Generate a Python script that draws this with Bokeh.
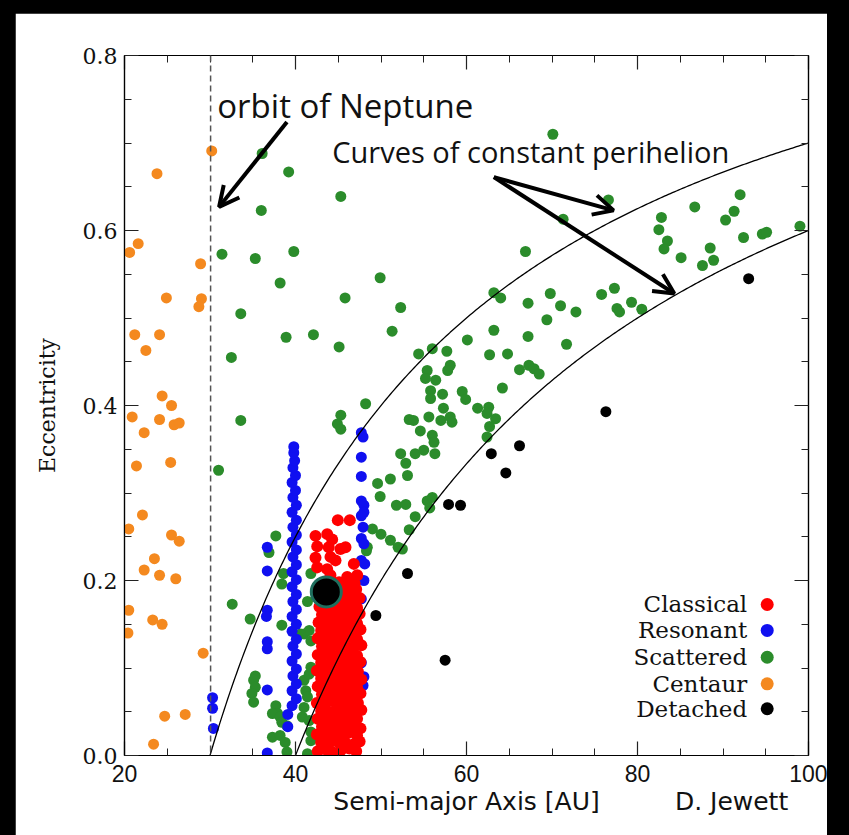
import numpy as np
from bokeh.plotting import figure
from bokeh.models import (Range1d, LinearAxis, FixedTicker, PrintfTickFormatter, Span,
                          Arrow, OpenHead, Label)
from bokeh.layouts import column
from bokeh.core.properties import value
from bokeh.embed import file_html
from bokeh.resources import INLINE

# ---------------- data ----------------
x_ticks = [20, 40, 60, 80, 100]
x_minor = [25, 30, 35, 45, 50, 55, 65, 70, 75, 85, 90, 95]
y_ticks = [0.0, 0.2, 0.4, 0.6, 0.8]
y_minor = [0.05, 0.1, 0.15, 0.25, 0.3, 0.35, 0.45, 0.5, 0.55, 0.65, 0.7, 0.75]

# texts under the x axis: axis title and credit, placed at these a-values
bottom_text_pos = [60.0, 91.0]
bottom_texts = ["Semi-major Axis [AU]", "D. Jewett"]

neptune_a = 30.07
perihelion_q = [30, 40]

centaur_a = [30.2, 23.8, 21.6, 20.6, 28.9, 24.9, 29.0, 28.7, 21.2, 24.1, 22.5, 24.4, 25.5, 20.9,
             24.1, 25.8, 26.4, 22.3, 21.4, 25.4, 22.1, 20.5, 25.5, 26.4, 23.5, 22.3, 24.1, 26.0,
             20.5, 23.3, 24.4, 20.4, 29.2, 24.7, 27.1, 23.4]
centaur_e = [0.691, 0.665, 0.585, 0.575, 0.562, 0.523, 0.522, 0.513, 0.481, 0.481, 0.463, 0.411,
             0.400, 0.387, 0.384, 0.378, 0.380, 0.369, 0.331, 0.335, 0.275, 0.259, 0.252, 0.245,
             0.225, 0.212, 0.206, 0.202, 0.166, 0.155, 0.150, 0.140, 0.117, 0.045, 0.047, 0.013]

scattered_a = [36.1, 39.2, 45.3, 36.0, 31.4, 35.3, 39.8, 38.2, 49.9, 45.8, 52.3, 33.6, 51.3, 38.9,
               42.1, 45.1, 32.5, 60.1, 54.4, 56.0, 57.7, 55.4, 58.1, 55.2, 56.4, 55.8, 57.2, 59.5,
               59.9, 55.8, 57.3, 55.6, 57.0, 58.1, 58.3, 53.3, 53.8, 54.6, 56.0, 56.2, 48.2, 45.3,
               44.9, 45.3, 33.6,
               70.1, 76.6, 66.9, 71.3, 82.8, 82.5, 83.5, 83.1, 86.7, 85.1, 88.5, 88.9, 87.6, 90.3,
               91.3, 92.0, 92.4, 94.6, 95.1, 99.0, 71.0, 72.8, 75.8, 77.3, 77.6, 77.9, 79.3, 80.5,
               71.7, 63.2, 64.0, 67.2, 69.8, 69.4, 63.2, 67.2, 62.7, 64.8, 57.8, 66.2, 67.3, 67.9,
               68.5, 64.2, 61.3, 62.6, 62.4, 63.4, 62.7, 62.4,
               52.3, 52.9, 54.0, 55.0, 56.3, 53.1, 51.1, 49.6, 49.9, 51.8, 52.9, 54.0, 55.4, 56.0,
               55.7, 49.0, 50.0, 51.1, 52.0, 52.5, 53.3, 48.4, 48.3, 41.8, 41.4, 41.0, 41.6, 31.0,
               37.7, 36.9, 38.6, 38.4, 32.6, 34.7, 38.4, 40.6, 41.8, 35.3, 35.1, 35.3, 34.9, 35.1,
               37.7, 37.9, 37.3, 38.2, 38.4, 39.0, 37.3, 38.2, 38.8, 39.0, 41.0, 41.6, 41.8, 41.2,
               41.4, 41.0, 40.8, 41.6, 41.8, 41.8, 41.4]
scattered_e = [0.688, 0.667, 0.639, 0.623, 0.573, 0.568, 0.576, 0.540, 0.546, 0.523, 0.512, 0.505,
               0.485, 0.478, 0.481, 0.467, 0.455, 0.475, 0.459, 0.465, 0.462, 0.440, 0.446, 0.431,
               0.429, 0.417, 0.413, 0.416, 0.407, 0.408, 0.397, 0.387, 0.383, 0.387, 0.381, 0.384,
               0.383, 0.371, 0.366, 0.358, 0.402, 0.389, 0.379, 0.373, 0.383,
               0.710, 0.635, 0.576, 0.613, 0.615, 0.601, 0.588, 0.579, 0.627, 0.569, 0.580, 0.566,
               0.560, 0.612, 0.622, 0.641, 0.592, 0.596, 0.598, 0.605, 0.514, 0.507, 0.527, 0.534,
               0.511, 0.507, 0.518, 0.510, 0.470, 0.529, 0.523, 0.517, 0.528, 0.498, 0.486, 0.479,
               0.458, 0.459, 0.440, 0.441, 0.446, 0.442, 0.436, 0.420, 0.397, 0.398, 0.391, 0.385,
               0.376, 0.364,
               0.345, 0.334, 0.345, 0.349, 0.345, 0.320, 0.316, 0.311, 0.296, 0.286, 0.287, 0.273,
               0.291, 0.295, 0.283, 0.259, 0.253, 0.246, 0.238, 0.236, 0.258, 0.238, 0.234, 0.208,
               0.176, 0.139, 0.143, 0.326, 0.251, 0.232, 0.208, 0.196, 0.173, 0.156, 0.149, 0.139,
               0.131, 0.091, 0.086, 0.078, 0.071, 0.061, 0.057, 0.048, 0.048, 0.044, 0.038, 0.034,
               0.021, 0.023, 0.015, 0.004, 0.086, 0.093, 0.101, 0.074, 0.067, 0.055, 0.044, 0.040,
               0.027, 0.017, 0.002]

resonant_a = [39.6, 40.1, 39.6, 40.1, 39.7, 40.1, 39.6, 40.1, 39.7, 40.1, 39.6, 40.1, 39.6, 40.1,
              39.7, 40.1, 39.6, 40.1, 39.6, 40.1, 39.7, 40.1, 39.6, 40.1, 39.7, 40.1, 39.6, 40.1,
              39.7, 40.0, 39.6, 40.0, 39.7, 39.9, 39.8, 39.8,
              30.3, 30.3, 30.4, 36.7, 36.7, 36.7, 36.6, 36.7, 36.7, 36.7, 36.7, 39.1, 39.1,
              47.7, 47.9, 47.7, 47.7, 47.7, 48.0, 48.0, 47.7, 47.9, 47.7, 48.0, 47.7, 48.1, 48.0,
              47.7, 47.7, 48.0, 47.9]
resonant_e = [0.057, 0.065, 0.074, 0.082, 0.091, 0.099, 0.108, 0.116, 0.125, 0.133, 0.142, 0.150,
              0.159, 0.167, 0.176, 0.184, 0.193, 0.201, 0.210, 0.218, 0.227, 0.235, 0.244, 0.252,
              0.261, 0.269, 0.278, 0.286, 0.295, 0.303, 0.312, 0.320, 0.329, 0.337, 0.346, 0.353,
              0.066, 0.054, 0.031, 0.238, 0.211, 0.166, 0.159, 0.130, 0.122, 0.075, 0.003, 0.047,
              0.033,
              0.369, 0.364, 0.341, 0.319, 0.291, 0.286, 0.278, 0.274, 0.261, 0.248, 0.242, 0.223,
              0.219, 0.200, 0.179, 0.106, 0.090, 0.080]

classical_a = [44.95, 46.35, 42.34, 43.71, 44.29, 42.54, 43.89, 45.26, 45.85, 42.34, 44.09, 44.68,
               46.82, 42.54, 43.71, 46.05, 47.22, 44.09,
               42.6, 43.5, 44.3, 45.3, 46.3, 47.1,
               43.0, 43.9, 44.9, 45.8, 46.8, 47.5,
               42.5, 43.4, 44.4, 45.4, 46.2, 47.2,
               43.1, 44.0, 44.9, 45.9, 46.7, 47.6,
               42.6, 43.5, 44.5, 45.3, 46.3, 47.2,
               43.0, 43.9, 44.8, 45.8, 46.8, 47.7,
               42.5, 43.5, 44.4, 45.4, 46.4, 47.3,
               43.1, 44.0, 44.9, 45.9, 46.8, 47.6,
               42.6, 43.5, 44.4, 45.3, 46.3, 47.2,
               43.0, 44.0, 44.9, 45.8, 46.7, 47.7,
               42.5, 43.4, 44.4, 45.4, 46.3, 47.3,
               43.0, 44.0, 44.9, 45.8, 46.8, 47.6,
               42.6, 43.5, 44.5, 45.4, 46.3, 47.2,
               43.1, 43.9, 44.9, 45.9, 46.8, 47.7,
               42.6, 43.5, 44.4, 45.3, 46.2, 47.2,
               43.0, 44.0, 44.8, 45.8, 46.8, 47.6,
               42.7, 43.6, 44.4, 45.4, 46.3, 47.2,
               43.1, 44.0, 44.9, 45.9, 46.7, 47.5,
               42.8, 43.5, 44.5, 45.4, 46.3, 47.2,
               43.2, 44.0, 44.9, 45.8, 46.8, 47.5,
               43.9, 44.5, 45.4, 46.3, 47.1,
               44.4, 45.1, 46.0, 46.9]
classical_e = [0.269, 0.269, 0.251, 0.253, 0.247, 0.239, 0.238, 0.236, 0.238, 0.226, 0.227, 0.223,
               0.219, 0.215, 0.213, 0.204, 0.206, 0.206,
               0.005, 0.007, 0.004, 0.006, 0.008, 0.005,
               0.015, 0.014, 0.016, 0.015, 0.013, 0.016,
               0.024, 0.025, 0.023, 0.024, 0.026, 0.023,
               0.033, 0.032, 0.034, 0.033, 0.034, 0.031,
               0.042, 0.043, 0.041, 0.042, 0.043, 0.042,
               0.051, 0.050, 0.052, 0.051, 0.050, 0.052,
               0.060, 0.061, 0.062, 0.060, 0.061, 0.060,
               0.070, 0.069, 0.071, 0.070, 0.069, 0.071,
               0.079, 0.080, 0.078, 0.079, 0.080, 0.078,
               0.088, 0.087, 0.089, 0.088, 0.089, 0.087,
               0.097, 0.098, 0.096, 0.097, 0.098, 0.096,
               0.106, 0.105, 0.107, 0.106, 0.105, 0.107,
               0.115, 0.116, 0.114, 0.115, 0.116, 0.114,
               0.125, 0.124, 0.126, 0.125, 0.124, 0.126,
               0.134, 0.135, 0.133, 0.134, 0.135, 0.133,
               0.143, 0.142, 0.144, 0.143, 0.142, 0.144,
               0.152, 0.153, 0.151, 0.152, 0.153, 0.151,
               0.161, 0.160, 0.162, 0.161, 0.160, 0.162,
               0.170, 0.171, 0.169, 0.170, 0.171, 0.169,
               0.179, 0.178, 0.180, 0.179, 0.178, 0.180,
               0.189, 0.190, 0.188, 0.189, 0.190,
               0.197, 0.198, 0.196, 0.197]

detached_a = [93.0, 76.3, 66.2, 62.9, 64.6, 57.9, 59.3, 53.1, 49.4, 57.5]
detached_e = [0.545, 0.393, 0.354, 0.345, 0.323, 0.287, 0.286, 0.208, 0.160, 0.109]

highlight_a = [43.6]
highlight_e = [0.187]

legend_names = ["Classical", "Resonant", "Scattered", "Centaur", "Detached"]
legend_colors = ["#ff0000", "#1010f0", "#2b8c2b", "#f4891f", "#000000"]

# ---------------- figure ----------------
p = figure(width=812, height=822, x_range=Range1d(20, 100), y_range=Range1d(0, 0.8),
           output_backend="svg", toolbar_location=None,
           min_border_left=109, min_border_right=19, min_border_top=42, min_border_bottom=80,
           background_fill_color="white", border_fill_color="white")
p.grid.visible = False
p.outline_line_color = "black"
p.outline_line_width = 1.2
p.margin = (13, 22, 0, 15)


def style_axis(ax, ticks, minor):
    ax.ticker = FixedTicker(ticks=ticks, minor_ticks=minor)
    ax.major_tick_in = 14
    ax.major_tick_out = 0
    ax.minor_tick_in = 7
    ax.minor_tick_out = 0
    ax.axis_line_color = "black"
    ax.axis_line_width = 1.2
    ax.major_tick_line_color = "#222222"
    ax.minor_tick_line_color = "#222222"
    ax.major_tick_line_width = 1.2
    ax.minor_tick_line_width = 1.0


xa = p.xaxis[0]
style_axis(xa, x_ticks, x_minor)
xa.major_label_text_font = "Liberation Sans"
xa.major_label_text_font_size = "23px"
xa.major_label_text_color = "#111111"
xa.major_label_standoff = 9

# second row under the x axis: title + credit
xa2 = LinearAxis(ticker=FixedTicker(ticks=bottom_text_pos),
                 major_label_overrides={pos: txt for pos, txt in zip(bottom_text_pos, bottom_texts)},
                 axis_line_color=None, major_tick_line_color=None, minor_tick_line_color=None,
                 major_tick_in=0, major_tick_out=0, minor_tick_in=0, minor_tick_out=0,
                 major_label_standoff=2, major_label_text_font="DejaVu Sans",
                 major_label_text_font_size="25px", major_label_text_color="#111111")
p.add_layout(xa2, "below")

ya = p.yaxis[0]
style_axis(ya, y_ticks, y_minor)
ya.formatter = PrintfTickFormatter(format="%.1f")
ya.major_label_text_font = "DejaVu Serif"
ya.major_label_text_font_size = "22px"
ya.major_label_text_color = "#111111"
ya.major_label_standoff = 7
ya.axis_label = "Eccentricity"
ya.axis_label_text_font = "DejaVu Serif"
ya.axis_label_text_font_size = "22px"
ya.axis_label_text_font_style = "normal"
ya.axis_label_text_color = "#111111"
ya.axis_label_standoff = 20

top_ax = LinearAxis(major_label_text_font_size="0px", major_label_text_color=None,
                    major_label_standoff=0)
style_axis(top_ax, x_ticks, x_minor)
p.add_layout(top_ax, "above")
right_ax = LinearAxis(major_label_text_font_size="0px", major_label_text_color=None,
                      major_label_standoff=0)
style_axis(right_ax, y_ticks, y_minor)
p.add_layout(right_ax, "right")

# ---------------- points ----------------
DOT = 11
p.scatter(centaur_a, centaur_e, size=DOT, fill_color=legend_colors[3], line_color=None)
p.scatter(scattered_a, scattered_e, size=DOT, fill_color=legend_colors[2], line_color=None)
p.scatter(resonant_a, resonant_e, size=DOT, fill_color=legend_colors[1], line_color=None)
p.scatter(classical_a, classical_e, size=12, fill_color=legend_colors[0], line_color=None)
p.scatter(detached_a, detached_e, size=DOT, fill_color=legend_colors[4], line_color=None)

# curves of constant perihelion
for q in perihelion_q:
    aa = np.linspace(q, 100, 300)
    p.line(aa, 1.0 - q / aa, line_color="black", line_width=1.3)

p.scatter(highlight_a, highlight_e, size=30, fill_color="black", line_color="#1f6f5e", line_width=3)

# orbit of Neptune
p.add_layout(Span(location=neptune_a, dimension="height", line_color="#555555",
                  line_dash="6 4", line_width=1.5))

# legend (right aligned text, dot on the right)
legend_y = [0.1726, 0.1429, 0.1123, 0.0819, 0.0534]
p.scatter([95.17] * 5, legend_y, size=13, fill_color=legend_colors, line_color=None)
p.text([92.83] * 5, legend_y, text=legend_names, text_align="right", text_baseline="middle",
       text_font=value("DejaVu Serif"), text_font_size=value("23px"), text_color="#111111")

# annotations
p.add_layout(Label(x=30.85, y=0.7428, text="orbit of Neptune", text_font="Open Sans",
                   text_font_size="33px", text_color="#111111", text_baseline="alphabetic"))
p.add_layout(Label(x=44.3, y=0.6903, text="Curves of constant perihelion", text_font="Open Sans",
                   text_font_size="29px", text_color="#111111", text_baseline="alphabetic"))

for (xs, ys, xe, ye) in [(39.0, 0.724, 31.06, 0.627), (63.2, 0.661, 77.2, 0.623),
                         (63.2, 0.661, 84.3, 0.528)]:
    p.add_layout(Arrow(end=OpenHead(size=20, line_width=4, line_color="black"),
                       x_start=xs, y_start=ys, x_end=xe, y_end=ye,
                       line_width=4, line_color="black"))

layout = column(p, width=849, height=835, styles={"background-color": "black"})

open("out.html", "w").write(file_html(layout, INLINE))
